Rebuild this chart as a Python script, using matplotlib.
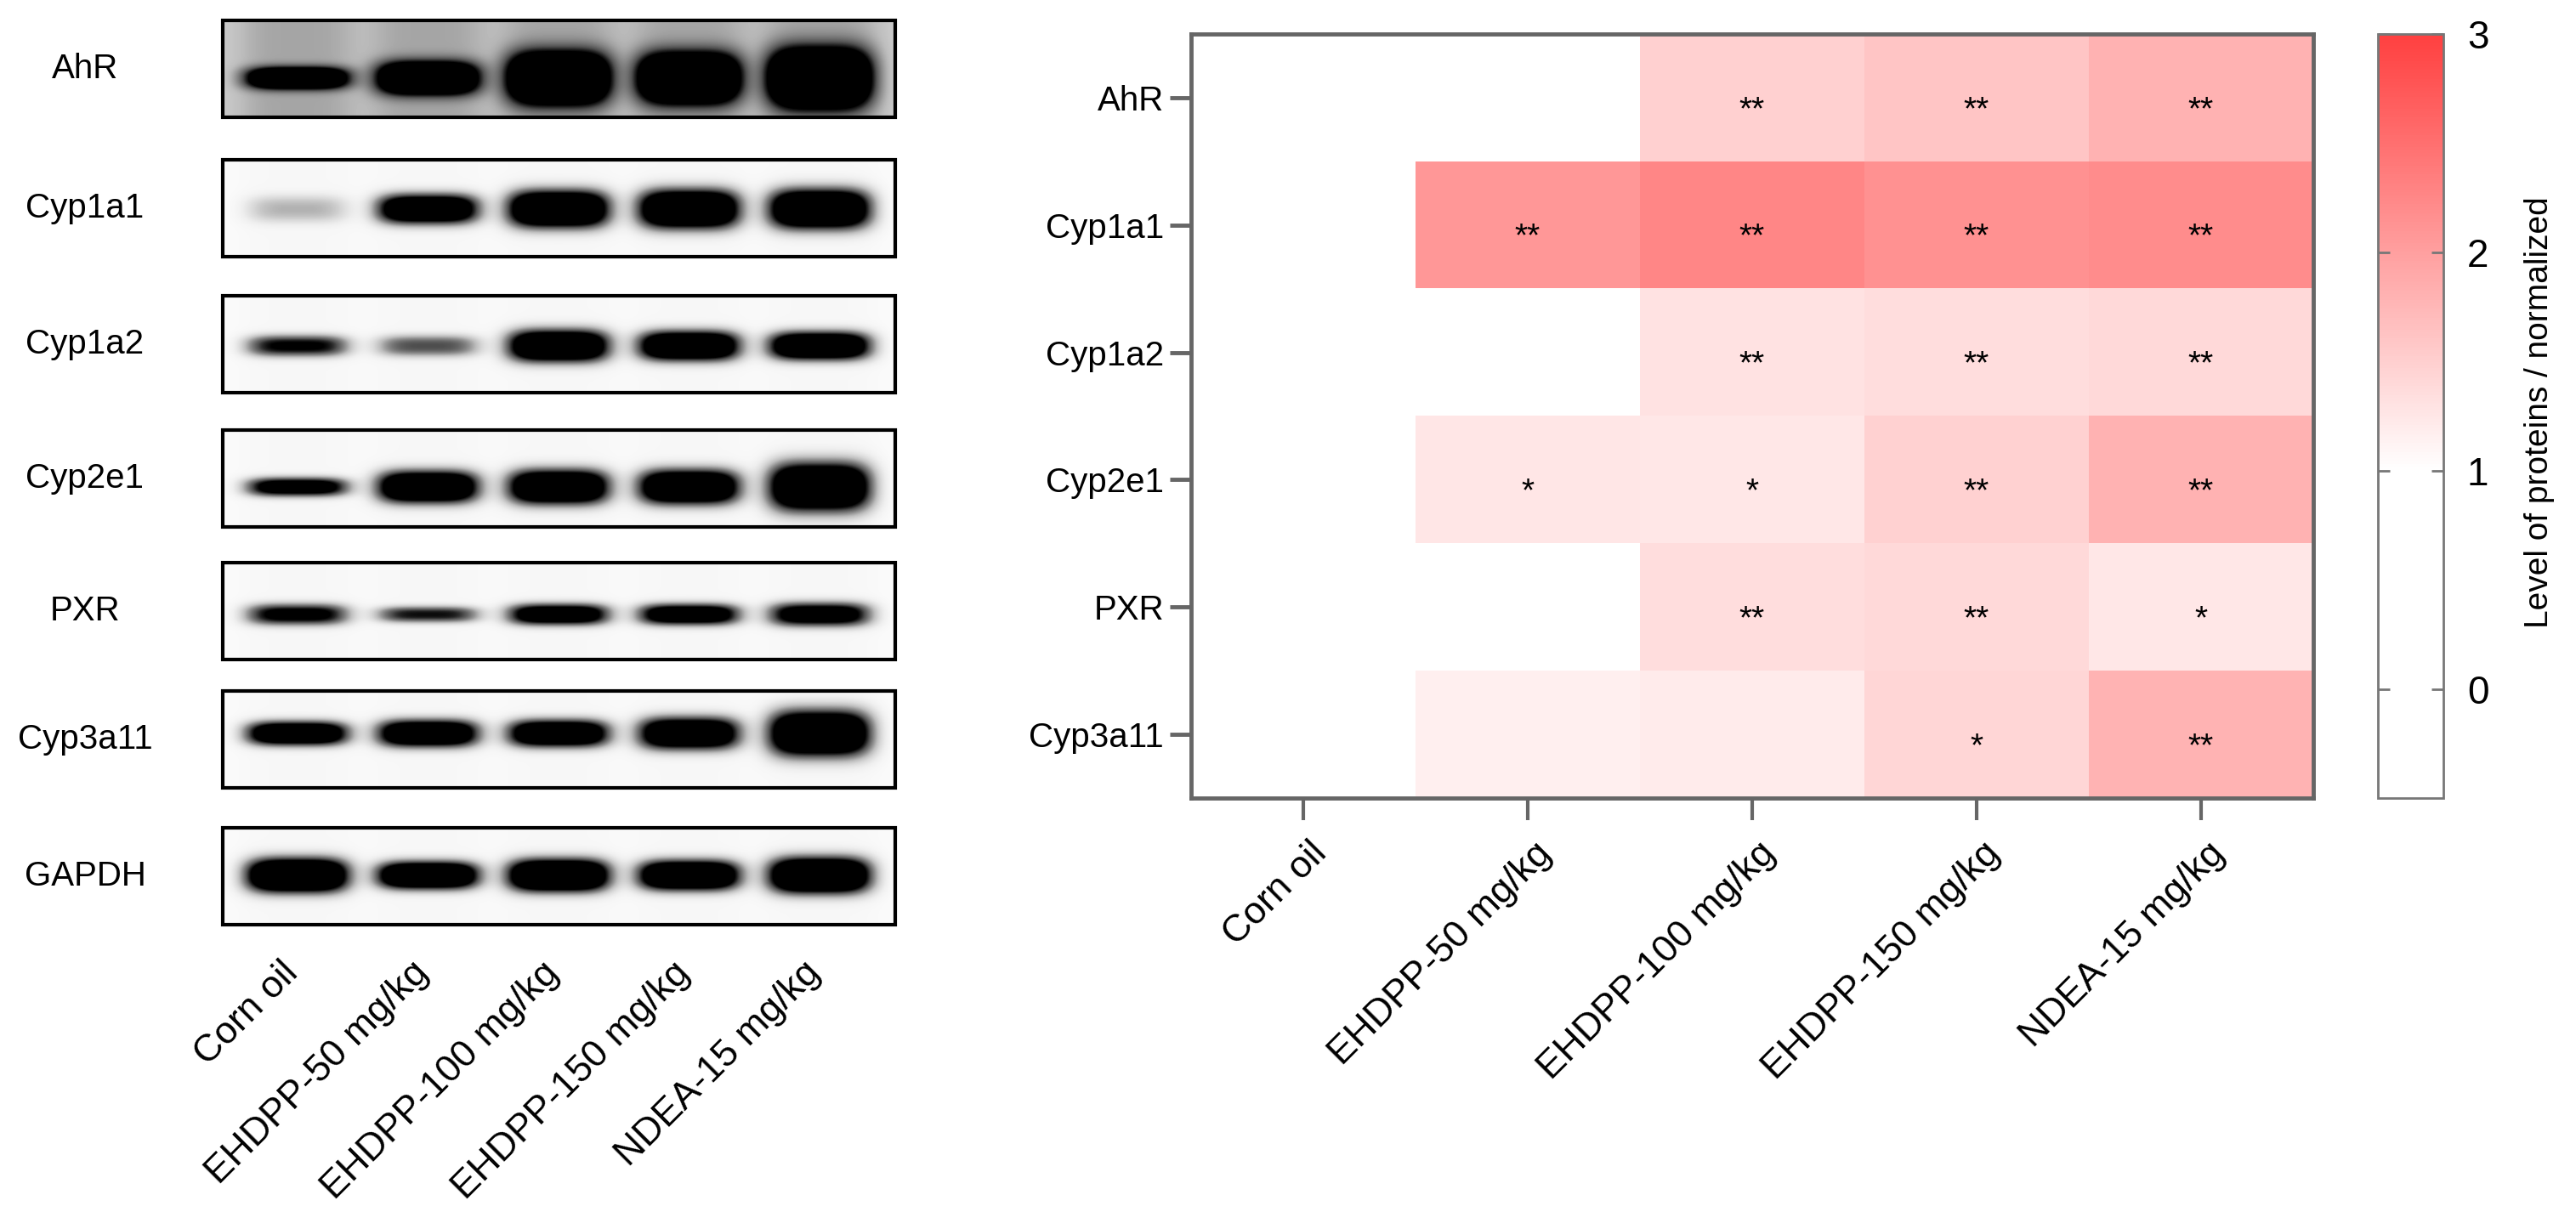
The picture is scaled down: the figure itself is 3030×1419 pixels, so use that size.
import numpy as np
import matplotlib
matplotlib.use("Agg")
import matplotlib.pyplot as plt
from matplotlib.colors import LinearSegmentedColormap, Normalize
from matplotlib.patches import Rectangle
from matplotlib.transforms import ScaledTranslation

plt.rcParams['font.family'] = ['Liberation Sans', 'DejaVu Sans']

groups = ["Corn oil", "EHDPP-50 mg/kg", "EHDPP-100 mg/kg", "EHDPP-150 mg/kg", "NDEA-15 mg/kg"]
proteins = ["AhR", "Cyp1a1", "Cyp1a2", "Cyp2e1", "PXR", "Cyp3a11"]
blot_rows = proteins + ["GAPDH"]

# relative protein level (heatmap), rows = proteins, cols = groups
level = [
    [1.00, 0.95, 1.49, 1.60, 1.81],
    [1.00, 2.08, 2.26, 2.15, 2.20],
    [1.00, 0.92, 1.30, 1.35, 1.39],
    [1.00, 1.26, 1.24, 1.47, 1.81],
    [1.00, 0.90, 1.35, 1.39, 1.24],
    [1.00, 1.16, 1.20, 1.42, 1.79],
]
stars = [
    ["", "", "**", "**", "**"],
    ["", "**", "**", "**", "**"],
    ["", "", "**", "**", "**"],
    ["", "*", "*", "**", "**"],
    ["", "", "**", "**", "*"],
    ["", "", "", "*", "**"],
]

# western blot band darkness and thickness (px) per lane
band_peak = [
    [1.4, 1.5, 1.7, 1.7, 1.8],
    [0.35, 1.6, 1.8, 1.8, 1.8],
    [1.0, 0.7, 1.7, 1.7, 1.7],
    [1.3, 1.7, 1.7, 1.7, 1.8],
    [1.1, 0.9, 1.4, 1.4, 1.3],
    [1.6, 1.6, 1.6, 1.6, 1.8],
    [1.9, 1.8, 1.9, 1.8, 1.9],
]
band_thick = [
    [25, 38, 60, 58, 68],
    [32, 35, 44, 46, 47],
    [25, 25, 38, 35, 33],
    [22, 38, 41, 41, 57],
    [25, 19, 25, 25, 28],
    [28, 32, 32, 38, 54],
    [40, 32, 38, 35, 42],
]

W, H = 3030, 1419
fig = plt.figure(figsize=(W / 100, H / 100), dpi=100)

# ---- left panel: blots, drawn in pixel coordinates
bg = fig.add_axes([0, 0, 1, 1])
bg.axis('off')
box_left, box_right = 262, 1053
box_tops = [24, 188, 348, 506, 662, 813, 974]
box_h = 114
band_shift = [11, 1, 2, 10, 4, -7, -1]
lane_x = np.linspace(350, 964, 5)

for k, name in enumerate(blot_rows):
    top = box_tops[k]
    xs = np.arange(box_left, box_right) + 0.5
    ys = np.arange(top, top + box_h) + 0.5
    X, Y = np.meshgrid(xs, ys)
    cy = top + box_h / 2 + band_shift[k]
    img = np.full(X.shape, 0.3 if name == "AhR" else 0.03)
    for i, cx in enumerate(lane_x):
        smear = 0.15 if name == "AhR" else 0.03
        img += smear * np.exp(-(np.abs(X - cx) / 72) ** 4)
        hy = band_thick[k][i] / 2
        img += band_peak[k][i] * np.exp(-(np.abs(X - cx) / 60) ** 4) * np.exp(-(np.abs(Y - cy) / hy) ** 2.5)
    bg.imshow(np.clip(img, 0, 1), cmap='Greys', vmin=0, vmax=1,
              extent=(box_left, box_right, top + box_h, top), aspect='auto',
              interpolation='bilinear', zorder=1)
    bg.add_patch(Rectangle((box_left, top), box_right - box_left, box_h,
                           fill=False, lw=3, ec='black', zorder=2))
    bg.text(100, top + box_h / 2, name, ha='center', va='center', fontsize=29)

for cx, g in zip(lane_x, groups):
    bg.text(cx - 20, 1124, g, rotation=45, ha='right', va='top',
            rotation_mode='anchor', fontsize=32)

bg.set_xlim(0, W)
bg.set_ylim(H, 0)

# ---- right panel: heatmap
ax = fig.add_axes([1401 / W, 1 - 939 / H, 1320 / W, 899 / H])
cmap = LinearSegmentedColormap.from_list('wr', [(0, 'white'), (1.5 / 3.5, 'white'), (1, '#ff4040')])
norm = Normalize(-0.5, 3)
im = ax.imshow(np.array(level), cmap=cmap, norm=norm, aspect='auto')

for i in range(len(proteins)):
    for j in range(len(groups)):
        if stars[i][j]:
            ax.text(j, i + 0.1, stars[i][j], ha='center', va='center', fontsize=28)

ax.set_yticks(range(len(proteins)), proteins, fontsize=29)
ax.set_xticks(range(len(groups)), groups, fontsize=32, rotation=45,
              ha='right', rotation_mode='anchor')
ax.tick_params(axis='y', length=18, width=3.5, color='#666666', pad=5)
ax.tick_params(axis='x', length=19, width=3, color='#666666', pad=13)
for lab in ax.get_xticklabels():
    lab.set_transform(lab.get_transform() + ScaledTranslation(0.07, 0, fig.dpi_scale_trans))
for s in ax.spines.values():
    s.set_color('#666666')
    s.set_linewidth(3.5)

cax = fig.add_axes([2797 / W, 1 - 939 / H, 77 / W, 899 / H])
cb = fig.colorbar(im, cax=cax, ticks=[0, 1, 2, 3])
cb.outline.set_edgecolor('#777777')
cb.outline.set_linewidth(2)
cax.tick_params(length=10, width=2, color='#777777', direction='in',
                left=True, right=True, labelsize=33, pad=20)
fig.text(2987 / W, 1 - 485 / H, 'Level of proteins / normalized', rotation=90,
         ha='center', va='center', fontsize=28)

fig.savefig('out.png', dpi=100)
